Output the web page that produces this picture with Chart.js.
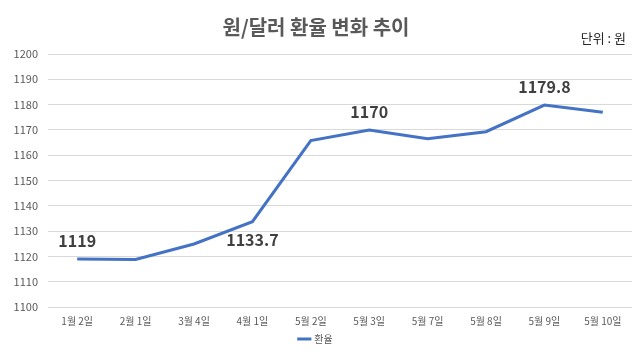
<!DOCTYPE html>
<html><head><meta charset="utf-8">
<script src="https://cdn.jsdelivr.net/npm/chart.js@4/dist/chart.umd.min.js"></script>
<style>html,body{margin:0;padding:0;background:#fff}#wrap{width:640px;height:360px}</style>
</head><body><div id="wrap"><canvas id="c" width="640" height="360"></canvas></div>
<script>
const categories = ['1월 2일','2월 1일','3월 4일','4월 1일','5월 2일','5월 3일','5월 7일','5월 8일','5월 9일','5월 10일'];
const rates = [1119, 1118.8, 1124.9, 1133.7, 1165.8, 1170, 1166.5, 1169.3, 1179.8, 1177];
const seriesName = '환율';
const labeledIdx = [0, 3, 5, 8];
const labelSide = ['above', 'below', 'above', 'above'];
const titleText = '원/달러 환율 변화 추이';
const unitText = '단위 : 원';
const FONT = "'Noto Sans CJK KR', 'Noto Sans', sans-serif";

const extras = {
  id: 'extras',
  afterDatasetsDraw(chart) {
    const ctx = chart.ctx;
    const meta = chart.getDatasetMeta(0);
    ctx.save();
    ctx.font = 'bold 16px ' + FONT;
    ctx.fillStyle = '#404040';
    ctx.textAlign = 'center';
    ctx.textBaseline = 'middle';
    labeledIdx.forEach((i, k) => {
      const p = meta.data[i];
      const dy = labelSide[k] === 'above' ? -18 : 18;
      ctx.fillText(String(rates[i]), p.x, p.y + dy);
    });
    ctx.font = '13px ' + FONT;
    ctx.fillStyle = '#262626';
    ctx.textAlign = 'right';
    ctx.fillText(unitText, chart.width - 14, 38);
    ctx.restore();
  }
};

new Chart(document.getElementById('c'), {
  type: 'line',
  data: {
    labels: categories,
    datasets: [{
      label: seriesName,
      data: rates,
      borderColor: '#4472C4',
      backgroundColor: '#4472C4',
      borderWidth: 3,
      pointRadius: 0,
      tension: 0,
      fill: false
    }]
  },
  options: {
    responsive: false,
    animation: false,
    layout: { padding: { left: 0, right: 8, top: 0, bottom: 6 } },
    plugins: {
      title: { display: true, text: titleText, color: '#595959',
        font: { family: FONT, size: 20, weight: '600' }, padding: { top: 15, bottom: 15 } },
      legend: { position: 'bottom',
        labels: { usePointStyle: true, pointStyle: 'line', boxWidth: 20, color: '#595959',
          font: { family: FONT, size: 10 }, padding: 7 } },
      tooltip: { enabled: false }
    },
    scales: {
      x: {
        offset: true,
        grid: { display: false },
        border: { display: false },
        ticks: { color: '#595959', font: { family: FONT, size: 10 }, padding: 0, maxRotation: 0 }
      },
      y: {
        min: 1100, max: 1200,
        grid: { color: '#d9d9d9', drawTicks: false },
        border: { display: false },
        ticks: { stepSize: 10, color: '#595959', font: { family: FONT, size: 11 }, padding: 10,
          callback: v => String(v) },
        afterFit(s) { s.width = 48; }
      }
    }
  },
  plugins: [extras]
});
</script></body></html>
